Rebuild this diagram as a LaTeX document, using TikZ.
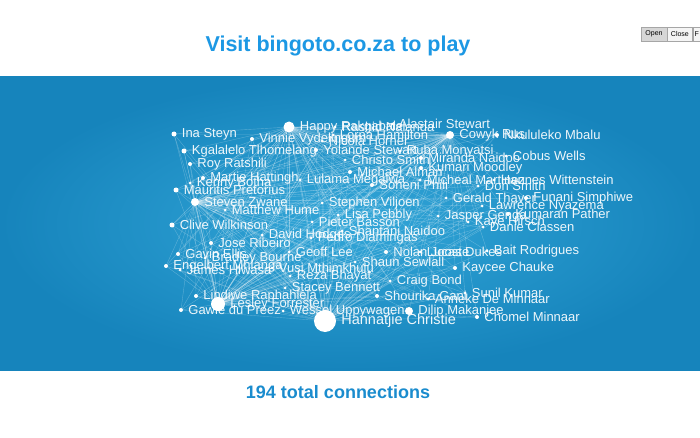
\documentclass[tikz,border=0pt]{standalone}
\usepackage{fontspec}
\setmainfont{Liberation Sans}
\usetikzlibrary{positioning}

\definecolor{bandin}{RGB}{50,166,216}
\definecolor{bandout}{RGB}{22,132,188}
\definecolor{titleblue}{RGB}{28,152,228}
\definecolor{countblue}{RGB}{26,140,206}

\begin{document}
\begin{tikzpicture}[
	x=1pt, y=-1pt,
	dot/.style={
		circle, fill=white, inner sep=0pt
	},
	lbl/.style={
		font=\fontsize{13}{14}\selectfont,
		text=white, text opacity=0.92, inner sep=0pt
	},
	edge/.style={white, opacity=0.26, line width=0.4pt},
	btn/.style={
		rectangle, draw=black!35, inner sep=0pt,
		minimum height=14pt, font=\fontsize{7}{8}\selectfont
	}
]
\useasboundingbox (0,0) rectangle (700,438);
\fill[white] (0,0) rectangle (700,438);

% Band
\shade[inner color=bandin, outer color=bandout] (0,77) rectangle (700,370);

% Header and footer
\node[font=\fontsize{21.5}{23}\bfseries, text=titleblue] (title) at (338,46) {Visit bingoto.co.za to play};
\node[font=\fontsize{18}{20}\bfseries, text=countblue] (count) at (338,392) {194 total connections};

\node[btn, fill=black!16, minimum width=26pt] (open) at (654,34) {Open};
\node[btn, fill=black!4, minimum width=25pt, right=0pt of open] (close) {Close};
\node[btn, fill=black!4, minimum width=8pt, right=0pt of close] (full) {F};

% Players: name/x/y/size/label
\def\players{
	happy/289/127/11/Happy Rakgabale,
	nalanda/335/127/3/Rashid Nalanda,
	alastair/392/124/3/Alastair Stewart,
	ina/174/134/5/Ina Steyn,
	vinnie/252/139/4/Vinnie Vydelingum,
	hamilton/333/135/3/Lorna Hamilton,
	horner/322/141/3/Nicola Horner,
	cowyk/450/135/8/Cowyk Rus,
	nkululeko/497/135/4/Nkululeko Mbalu,
	kgalalelo/184/151/5/Kgalalelo Tlhomelang,
	yolande/316/150/4/Yolande Stewart,
	ruba/400/151/3/Ruba Monyatsi,
	christo/345/160/3/Christo Smith,
	miranda/421/158/4/Miranda Naidoo,
	cobus/506/156/3/Cobus Wells,
	roy/190/164/4/Roy Ratshili,
	kumari/421/168/4/Kumari Moodley,
	michael/350/172/4/Michael Alman,
	martie/203/178/4/Martie Hattingh,
	megalwa/300/180/3/Lulama Megalwa,
	kenny/190/183/3/Kenny Botha,
	martinez/420/180/3/Micheal Martinez,
	wittenstein/494/180/3/Hannes Wittenstein,
	mauritis/176/190/5/Mauritis Pretorius,
	soheni/372/185/4/Soheni Phili,
	don/478/186/3/Don Smith,
	steven/195/202/8/Steven Zwane,
	matthew/225/210/3/Matthew Hume,
	stephen/322/203/3/Stephen Viljoen,
	gerald/446/198/3/Gerald Thaver,
	funani/526/198/4/Funani Simphiwe,
	lawrence/482/206/3/Lawrence Nyazema,
	kumaran/508/214/4/Kumaran Pather,
	lisa/338/215/3/Lisa Pebbly,
	jasper/438/216/3/Jasper Genga,
	pieter/312/222/3/Pieter Basson,
	kaye/468/222/3/Kaye Hirsch,
	clive/172/225/5/Clive Wilkinson,
	danie/483/227/3/Danie Classen,
	shantani/342/231/3/Shantani Naidoo,
	david/262/235/3/David Hodges,
	pedro/311/238/3/Pedro Diamingas,
	jose/211/243/4/Jose Ribeiro,
	geoff/289/252/3/Geoff Lee,
	gavin/178/254/4/Gavin Ellis,
	nolan/386/252/4/Nolan Jooste,
	lucas/420/252/3/Lucas Dukes,
	bait/487/251/3/Bait Rodrigues,
	bradley/205/258/3/Bradley Bourne,
	sewlall/355/262/3/Shaun Sewlall,
	engelbert/166/266/4/Engelbert Mhlanga,
	james/180/270/3/James Hlwasa,
	vusi/272/268/3/Vusi Mthimkhulu,
	kaycee/455/268/4/Kaycee Chauke,
	reza/290/276/3/Reza Bhayat,
	craig/390/281/3/Craig Bond,
	stacey/285/288/3/Stacey Bennett,
	lindiwe/196/296/4/Lindiwe Raphahlela,
	shourika/377/296/4/Shourika Gani,
	sunil/465/293/3/Sunil Kumar,
	anneke/428/299/3/Anneke De Minnaar,
	lesley/218/304/14/Lesley Forrester,
	gawie/181/310/4/Gawie du Preez,
	wessel/283/311/3/Wessel Uppywagen,
	dilip/409/311/8/Dilip Makanjee,
	chomel/477/317/4/Chomel Minnaar%
}

% Dots
\foreach \nm/\x/\y/\r/\txt in \players
	\node[dot, minimum size=\r pt] (\nm) at (\x,\y) {};
\node[dot, minimum size=22pt] (hannatjie) at (325,321) {};

% Connections from the busiest players
\foreach \h in {hannatjie,happy,steven,lesley,cowyk}
	\foreach \nm/\x/\y/\r/\txt in \players
		\draw[edge] (\h.center) -- (\nm.center);

% Labels
\foreach \nm/\x/\y/\r/\txt in \players
	\node[lbl, right=5pt of \nm] (\nm-t) {\txt};
\node[lbl, font=\fontsize{14.5}{15}\selectfont, right=5pt of hannatjie] (hannatjie-t) {Hannatjie Christie};

\end{tikzpicture}
\end{document}
